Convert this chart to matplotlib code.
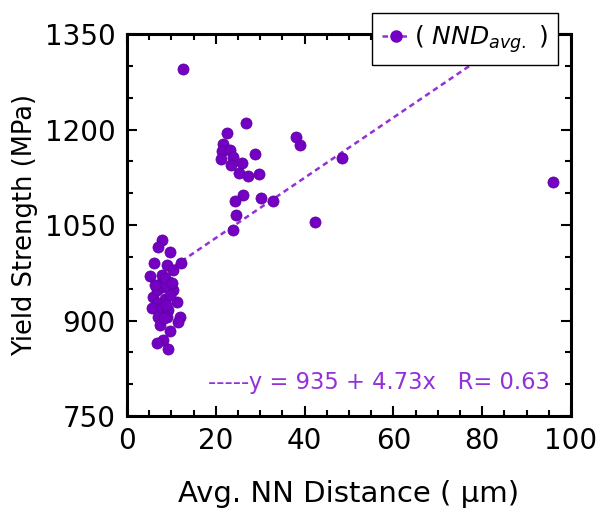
import matplotlib
matplotlib.use("Agg")
import matplotlib.pyplot as plt
from matplotlib.ticker import MultipleLocator
import numpy as np

# avg. nearest-neighbour distance (um) and yield strength (MPa)
nnd_fine = [7.9, 7.0, 9.7, 6.1, 9.0, 12.2, 10.4, 5.2, 7.9, 9.5, 7.4, 7.9, 10.4,
            5.9, 8.6, 11.3, 6.8, 5.6, 7.9, 9.2, 7.0, 9.0, 11.9, 11.5, 9.7, 8.1,
            6.8, 9.2, 8.6, 6.8, 9.7, 7.4, 8.3, 6.3, 8.8, 10.1]
ys_fine = [1026, 1015, 1008, 990, 987, 990, 979, 970, 971, 960, 957, 953, 948,
           937, 934, 929, 927, 920, 920, 917, 906, 906, 906, 898, 884, 869,
           865, 855, 967, 948, 940, 893, 904, 956, 924, 959]

nnd_coarse = [26.7, 22.5, 21.7, 21.3, 23.2, 23.9, 21.1, 23.4, 26.0, 28.8, 25.3,
              27.3, 29.8, 38.0, 39.0, 48.5, 26.2, 30.3, 32.8, 24.3, 24.5, 23.9,
              42.3, 12.7, 96.0]
ys_coarse = [1210, 1194, 1177, 1167, 1168, 1157, 1153, 1144, 1148, 1161, 1132,
             1127, 1130, 1189, 1176, 1155, 1097, 1093, 1087, 1087, 1066, 1042,
             1054, 1295, 1118]

fit_a, fit_b, fit_r = 935, 4.73, 0.63
fit_x = [10.5, 100]

pt_color = "#7400C4"
line_color = "#9330D6"

plt.rcParams["font.family"] = "DejaVu Sans"

fig = plt.figure(figsize=(5.96, 5.12), dpi=100)
ax = fig.add_axes([0.213, 0.1875, 0.745, 0.746])

x_all = np.array(nnd_fine + nnd_coarse)
y_all = np.array(ys_fine + ys_coarse)
fx = np.array(fit_x)
ax.plot(fx, fit_a + fit_b * fx, color=line_color, lw=1.8,
        linestyle=(0, (2.2, 1.6)), zorder=2)
ax.plot(x_all, y_all, "o", color=pt_color, mec="#5a0098", mew=0.5, ms=8,
        linestyle="none", zorder=3)

# legend handle: dashed line with marker
h, = ax.plot([], [], color=line_color, lw=1.8, linestyle=(0, (2.2, 1.6)),
             marker="o", ms=8, mfc=pt_color, mec=pt_color)
leg = ax.legend([h], [r"( $NND_{avg.}$ )"], loc="upper right",
                bbox_to_anchor=(0.971, 1.055), fancybox=False, framealpha=1,
                edgecolor="black", fontsize=18, handlelength=1.1,
                borderpad=0.4, handletextpad=0.2, borderaxespad=0)
leg.get_frame().set_linewidth(1.0)
leg.set_zorder(5)

ax.text(0.182, 0.089, f"-----y = {fit_a} + {fit_b}x   R= {fit_r}",
        transform=ax.transAxes, color=line_color, fontsize=16.3, va="center")

ax.set_xlim(0, 100)
ax.set_ylim(750, 1350)
ax.xaxis.set_major_locator(MultipleLocator(20))
ax.xaxis.set_minor_locator(MultipleLocator(5))
ax.yaxis.set_major_locator(MultipleLocator(150))
ax.yaxis.set_minor_locator(MultipleLocator(50))
ax.tick_params(which="both", direction="in", top=True, right=True,
               labelsize=20, width=1.5)
ax.tick_params(which="major", length=7, pad=8)
ax.tick_params(which="minor", length=4)
for s in ax.spines.values():
    s.set_linewidth(2.2)

ax.set_xlabel("Avg. NN Distance ( μm)", fontsize=21, labelpad=18)
ax.set_ylabel("Yield Strength (MPa)", fontsize=18.5, labelpad=5)

fig.savefig("out.png", dpi=100)
